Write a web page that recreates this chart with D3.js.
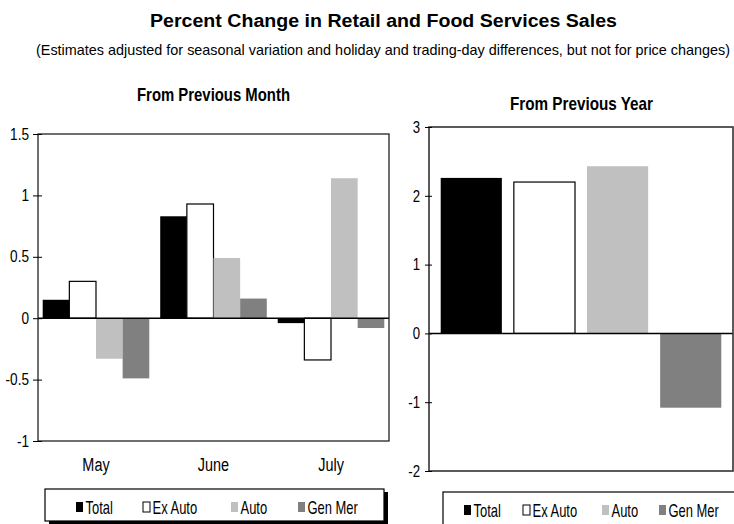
<!DOCTYPE html>
<html>
<head>
<meta charset="utf-8">
<script src="https://cdn.jsdelivr.net/npm/d3@7"></script>
<style>
    body { margin: 0; background: #fff; }
    svg { display: block; }
    text { font-family: "Liberation Sans", Arial, sans-serif; fill: #000; }
    .title { font-weight: bold; font-size: 18px; }
    .subtitle { font-size: 14.5px; }
    .panelTitle { font-weight: bold; font-size: 18.5px; }
</style>
</head>
<body>
<svg id="chart" width="734" height="524"></svg>
<script>
/*
 Data
 */

var series = ['Total', 'Ex Auto', 'Auto', 'Gen Mer'];
var seriesFill = ['#000000', '#ffffff', '#c0c0c0', '#808080'];
var months = ['May', 'June', 'July'];

var monthTotal = [0.15, 0.83, -0.04];
var monthExAuto = [0.30, 0.93, -0.34];
var monthAuto = [-0.33, 0.49, 1.14];
var monthGenMer = [-0.49, 0.16, -0.08];

var yearValues = [2.26, 2.20, 2.43, -1.08];

var monthTicks = [-1, -0.5, 0, 0.5, 1, 1.5];
var yearTicks = [-2, -1, 0, 1, 2, 3];

var svg = d3.select('#chart');

function plainFormat(d) {
    return String(d);
}

/*
 Titles
 */

svg.append('text')
    .classed('title', true)
    .attr('x', 150)
    .attr('y', 27)
    .attr('textLength', 467)
    .attr('lengthAdjust', 'spacingAndGlyphs')
    .text('Percent Change in Retail and Food Services Sales');

svg.append('text')
    .classed('subtitle', true)
    .attr('x', 36)
    .attr('y', 55)
    .attr('textLength', 694)
    .attr('lengthAdjust', 'spacingAndGlyphs')
    .text('(Estimates adjusted for seasonal variation and holiday and trading-day differences, but not for price changes)');

/*
 Left panel: from previous month
 */

var monthRows = months.map(function (m, i) {
    return {
        month: m,
        values: [monthTotal[i], monthExAuto[i], monthAuto[i], monthGenMer[i]]
    };
});

var L = {left: 38, right: 389, top: 134, bottom: 441};

var xMonth = d3.scaleBand()
    .domain(months)
    .range([L.left, L.right])
    .paddingInner(0.093)
    .paddingOuter(0.04);

var xSeries = d3.scaleBand()
    .domain(series)
    .range([0, xMonth.bandwidth()]);

var yMonth = d3.scaleLinear()
    .domain([-1, 1.5])
    .range([L.bottom, L.top]);

var left = svg.append('g').classed('panel', true);

left.append('text')
    .classed('panelTitle', true)
    .attr('x', 137)
    .attr('y', 101)
    .attr('textLength', 153)
    .attr('lengthAdjust', 'spacingAndGlyphs')
    .text('From Previous Month');

var groups = left.selectAll('.group')
    .data(monthRows)
    .enter().append('g')
    .classed('group', true)
    .attr('transform', function (d) {
        return 'translate(' + xMonth(d.month) + ',0)';
    });

groups.selectAll('rect')
    .data(function (d) {
        return d.values.map(function (v, i) {
            return {series: series[i], value: v, fill: seriesFill[i]};
        });
    })
    .enter().append('rect')
    .attr('x', function (d) {
        return xSeries(d.series);
    })
    .attr('width', xSeries.bandwidth())
    .attr('y', function (d) {
        return yMonth(Math.max(0, d.value));
    })
    .attr('height', function (d) {
        return Math.abs(yMonth(d.value) - yMonth(0));
    })
    .attr('fill', function (d) {
        return d.fill;
    })
    .attr('stroke', function (d) {
        return d.series === 'Ex Auto' ? '#000' : 'none';
    })
    .attr('stroke-width', 1.2);

left.append('line')
    .attr('x1', L.left).attr('x2', L.right)
    .attr('y1', yMonth(0)).attr('y2', yMonth(0))
    .attr('stroke', '#000').attr('stroke-width', 1.5);

left.append('rect')
    .attr('x', L.left).attr('y', L.top)
    .attr('width', L.right - L.left).attr('height', L.bottom - L.top)
    .attr('fill', 'none').attr('stroke', '#222').attr('stroke-width', 1.3);

var yAxisL = left.append('g')
    .attr('transform', 'translate(' + L.left + ',0)')
    .call(d3.axisLeft(yMonth).tickValues(monthTicks).tickSize(5).tickFormat(plainFormat));
yAxisL.select('.domain').remove();
yAxisL.selectAll('.tick line').attr('stroke', '#000').attr('x2', 4).attr('x1', -5);
yAxisL.selectAll('.tick text')
    .attr('x', -9 / 0.85)
    .attr('transform', 'scale(0.85,1)')
    .attr('font-size', 16)
    .attr('font-family', '"Liberation Sans", Arial, sans-serif');

left.selectAll('.monthLabel')
    .data(months)
    .enter().append('text')
    .classed('monthLabel', true)
    .attr('transform', function (d) {
        return 'translate(' + (xMonth(d) + xMonth.bandwidth() / 2) + ',471) scale(0.76,1)';
    })
    .attr('text-anchor', 'middle')
    .attr('font-size', 19)
    .text(function (d) {
        return d;
    });

/*
 Right panel: from previous year
 */

var R = {left: 429, right: 733, top: 127, bottom: 471};

var xYear = d3.scaleBand()
    .domain(series)
    .range([R.left, R.right])
    .paddingInner(0.164)
    .paddingOuter(0.16);

var yYear = d3.scaleLinear()
    .domain([-2, 3])
    .range([R.bottom, R.top]);

var right = svg.append('g').classed('panel', true);

right.append('text')
    .classed('panelTitle', true)
    .attr('x', 510)
    .attr('y', 110)
    .attr('textLength', 143)
    .attr('lengthAdjust', 'spacingAndGlyphs')
    .text('From Previous Year');

right.selectAll('rect.bar')
    .data(yearValues)
    .enter().append('rect')
    .classed('bar', true)
    .attr('x', function (d, i) {
        return xYear(series[i]);
    })
    .attr('width', xYear.bandwidth())
    .attr('y', function (d) {
        return yYear(Math.max(0, d));
    })
    .attr('height', function (d) {
        return Math.abs(yYear(d) - yYear(0));
    })
    .attr('fill', function (d, i) {
        return seriesFill[i];
    })
    .attr('stroke', function (d, i) {
        return series[i] === 'Ex Auto' ? '#000' : 'none';
    })
    .attr('stroke-width', 1.2);

right.append('line')
    .attr('x1', R.left).attr('x2', R.right)
    .attr('y1', yYear(0)).attr('y2', yYear(0))
    .attr('stroke', '#000').attr('stroke-width', 1.5);

right.append('rect')
    .attr('x', R.left).attr('y', R.top)
    .attr('width', R.right - R.left).attr('height', R.bottom - R.top)
    .attr('fill', 'none').attr('stroke', '#333').attr('stroke-width', 1.6);

var yAxisR = right.append('g')
    .attr('transform', 'translate(' + R.left + ',0)')
    .call(d3.axisLeft(yYear).tickValues(yearTicks).tickSize(5).tickFormat(plainFormat));
yAxisR.select('.domain').remove();
yAxisR.selectAll('.tick line').attr('stroke', '#000').attr('x2', 3).attr('x1', -4);
yAxisR.selectAll('.tick text')
    .attr('x', -9 / 0.8)
    .attr('transform', 'scale(0.8,1)')
    .attr('font-size', 16.5)
    .attr('font-family', '"Liberation Sans", Arial, sans-serif');

/*
 Legends
 */

function makeLegend(g, box, itemX) {
    g.append('rect')
        .attr('x', box.x + 4).attr('y', box.y + 3)
        .attr('width', box.w).attr('height', box.h)
        .attr('fill', '#000');
    g.append('rect')
        .attr('x', box.x).attr('y', box.y)
        .attr('width', box.w).attr('height', box.h)
        .attr('fill', '#fff').attr('stroke', '#000').attr('stroke-width', 1.2);

    var items = g.selectAll('.legendItem')
        .data(series)
        .enter().append('g')
        .classed('legendItem', true)
        .attr('transform', function (d, i) {
            return 'translate(' + itemX[i] + ',' + (box.y + 13) + ')';
        });

    items.append('rect')
        .attr('width', 7).attr('height', 10)
        .attr('fill', function (d, i) {
            return seriesFill[i];
        })
        .attr('stroke', function (d) {
            return d === 'Ex Auto' ? '#000' : 'none';
        })
        .attr('stroke-width', 1);

    items.append('text')
        .attr('transform', 'translate(9.5,11.5) scale(0.72,1)')
        .attr('font-size', 18)
        .text(function (d) {
            return d;
        });
}

makeLegend(svg.append('g'), {x: 45, y: 489, w: 339, h: 32}, [76, 143, 231, 298]);
makeLegend(svg.append('g'), {x: 443, y: 492, w: 300, h: 34}, [464, 523, 602, 659]);
</script>
</body>
</html>
